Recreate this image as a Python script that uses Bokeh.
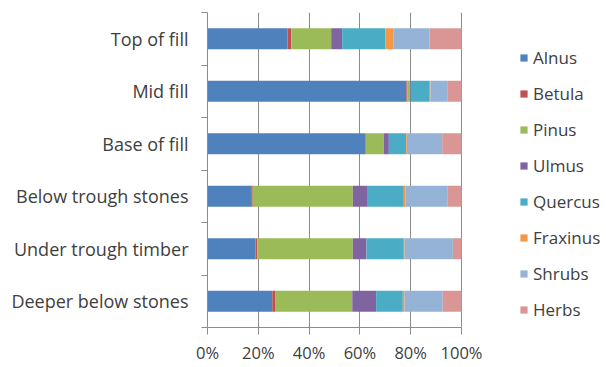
from bokeh.plotting import figure
from bokeh.models import (ColumnDataSource, Range1d, FixedTicker, NumeralTickFormatter,
                          Legend, LegendItem)
from bokeh.embed import file_html
from bokeh.resources import INLINE

categories = ["Top of fill", "Mid fill", "Base of fill", "Below trough stones",
              "Under trough timber", "Deeper below stones"]
taxa = ["Alnus", "Betula", "Pinus", "Ulmus", "Quercus", "Fraxinus", "Shrubs", "Herbs"]
colors = ["#4F81BD", "#C0504D", "#9BBB59", "#8064A2", "#4BACC6", "#F79646", "#95B3D7", "#D99694"]

Alnus = [31.5, 78.3, 62.0, 17.2, 18.9, 25.5]
Betula = [1.5, 0.3, 0.3, 0.6, 0.7, 1.3]
Pinus = [15.7, 1.0, 7.1, 39.4, 37.6, 30.2]
Ulmus = [4.3, 0.4, 2.0, 5.9, 5.4, 9.4]
Quercus = [17.0, 7.5, 6.8, 14.2, 14.7, 10.5]
Fraxinus = [3.3, 0.3, 0.3, 0.7, 0.3, 0.7]
Shrubs = [14.1, 6.6, 13.9, 16.4, 19.0, 15.0]
Herbs = [12.6, 5.6, 7.6, 5.6, 3.4, 7.4]

series = [Alnus, Betula, Pinus, Ulmus, Quercus, Fraxinus, Shrubs, Herbs]
n = len(categories)
ypos = [n - 1 - i + 0.5 for i in range(n)]

data = {"y": ypos}
tot = [sum(s[i] for s in series) for i in range(n)]
for name, vals in zip(taxa, series):
    data[name] = [v / t for v, t in zip(vals, tot)]
source = ColumnDataSource(data)

# frame spans to the right edge so the legend can live inside it; axis/grid bounded to 0..1
p = figure(width=606, height=367, output_backend="svg", toolbar_location=None,
           x_range=Range1d(0, 399 / 254), y_range=Range1d(0, n),
           min_border_left=207, min_border_right=0, min_border_top=12, min_border_bottom=40)
p.outline_line_color = None
p.background_fill_color = "white"

renderers = p.hbar_stack(taxa, y="y", height=0.40, color=colors, source=source, line_color=None)

TXT = "#404040"
FONT = "Open Sans"
AX = "#8C8C8C"

p.xaxis.ticker = FixedTicker(ticks=[0, 0.2, 0.4, 0.6, 0.8, 1.0])
p.xaxis.bounds = (0, 1)
p.xaxis.formatter = NumeralTickFormatter(format="0%")
p.xaxis.axis_line_color = AX
p.xaxis.major_tick_line_color = AX
p.xaxis.major_tick_out = 7
p.xaxis.major_tick_in = 0
p.xaxis.minor_tick_line_color = None
p.xaxis.major_label_text_font = FONT
p.xaxis.major_label_text_font_size = "16.5px"
p.xaxis.major_label_text_color = TXT
p.xaxis.major_label_standoff = 6

p.yaxis.ticker = FixedTicker(ticks=ypos, minor_ticks=list(range(n + 1)))
p.yaxis.major_label_overrides = {y: c for y, c in zip(ypos, categories)}
p.yaxis.axis_line_color = AX
p.yaxis.major_tick_line_color = None
p.yaxis.major_tick_out = 0
p.yaxis.minor_tick_line_color = AX
p.yaxis.minor_tick_out = 6
p.yaxis.minor_tick_in = 0
p.yaxis.major_label_text_font = FONT
p.yaxis.major_label_text_font_size = "18px"
p.yaxis.major_label_text_color = TXT
p.yaxis.major_label_standoff = 13

p.xgrid.grid_line_color = AX
p.xgrid.grid_line_width = 1
p.xgrid.bounds = (0, 1)
p.ygrid.grid_line_color = None

items = [LegendItem(label=t, renderers=[r]) for t, r in zip(taxa, renderers)]
legend = Legend(items=items, location=(312, 6), orientation="vertical",
                glyph_width=9, glyph_height=9, label_height=16, spacing=13,
                label_text_font=FONT, label_text_font_size="17px", label_text_color=TXT,
                label_standoff=5, border_line_color=None, background_fill_alpha=0,
                padding=0, margin=0)
p.add_layout(legend, "center")

open("out.html", "w").write(file_html(p, INLINE))
